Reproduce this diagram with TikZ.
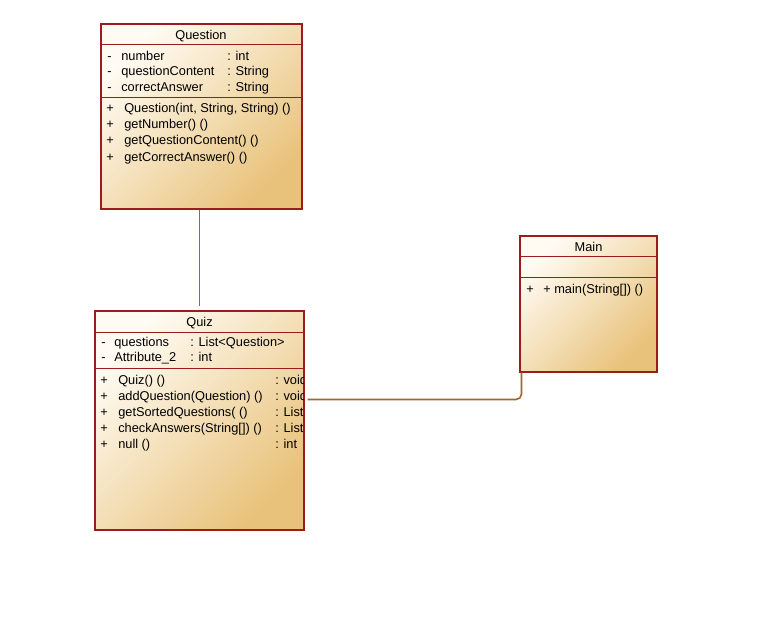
\documentclass[tikz,border=0pt]{standalone}
\usepackage{fontspec}
\setmainfont{Liberation Sans}
\usetikzlibrary{fit,calc}

\definecolor{umlred}{HTML}{9B1C1C}
\definecolor{umllight}{HTML}{FFFBF3}
\definecolor{umldark}{HTML}{E8C27A}
\definecolor{linkbrown}{HTML}{A0662B}

\begin{document}
\begin{tikzpicture}[
  x=0.75pt, y=-0.75pt,
  font=\fontsize{9.6}{11.5}\selectfont,
  classbox/.style={draw=umlred, line width=0.8pt, inner sep=0pt,
                   shading=axis, top color=umllight, bottom color=umldark,
                   shading angle=45},
  sep/.style={draw=umlred, line width=0.8pt},
  title/.style={inner sep=0pt, text height=7pt, text depth=2pt, yshift=-1.8pt},
  member/.style={anchor=west, inner sep=0pt, text height=7pt, text depth=2pt,
                 yshift=-1.2pt},
  assoc/.style={draw=linkbrown, line width=1.2pt}
]
\useasboundingbox (0,0) rectangle (765,635);

% ================= Question =================
\node[classbox, fit={(101,24) (302,209)}] (question) {};
\draw[sep] ($(question.north west)+(0,21)$) -- ($(question.north east)+(0,21)$);
\draw[sep] ($(question.north west)+(0,74)$) -- ($(question.north east)+(0,74)$);
\node[title] (qtitle) at (201,34) {Question};
\node[member] (qa1v) at (107,56) {-};
\node[member] (qa1)  at (121,56) {number};
\node[member] (qa1t) at (227,56) {: int};
\node[member] (qa2v) at (107,71) {-};
\node[member] (qa2)  at (121,71) {questionContent};
\node[member] (qa2t) at (227,71) {: String};
\node[member] (qa3v) at (107,87) {-};
\node[member] (qa3)  at (121,87) {correctAnswer};
\node[member] (qa3t) at (227,87) {: String};
\node[member] (qm1v) at (106,108) {+};
\node[member] (qm1)  at (124,108) {Question(int, String, String) ()};
\node[member] (qm2v) at (106,124) {+};
\node[member] (qm2)  at (124,124) {getNumber() ()};
\node[member] (qm3v) at (106,140) {+};
\node[member] (qm3)  at (124,140) {getQuestionContent() ()};
\node[member] (qm4v) at (106,157) {+};
\node[member] (qm4)  at (124,157) {getCorrectAnswer() ()};

% ================= Quiz =================
\node[classbox, fit={(95,311) (304,530)}] (quiz) {};
\draw[sep] ($(quiz.north west)+(0,22)$) -- ($(quiz.north east)+(0,22)$);
\draw[sep] ($(quiz.north west)+(0,58)$) -- ($(quiz.north east)+(0,58)$);
\node[title] (ztitle) at (199.5,321) {Quiz};
\node[member] (za1v) at (101,342) {-};
\node[member] (za1)  at (114,342) {questions};
\node[member] (za1t) at (190,342) {: List<Question>};
\node[member] (za2v) at (101,357) {-};
\node[member] (za2)  at (114,357) {Attribute\_2};
\node[member] (za2t) at (190,357) {: int};
\node[member] (zm1v) at (100,380) {+};
\node[member] (zm1)  at (118,380) {Quiz() ()};
\node[member] (zm2v) at (100,396) {+};
\node[member] (zm2)  at (118,396) {addQuestion(Question) ()};
\node[member] (zm3v) at (100,412) {+};
\node[member] (zm3)  at (118,412) {getSortedQuestions( ()};
\node[member] (zm4v) at (100,428) {+};
\node[member] (zm4)  at (118,428) {checkAnswers(String[]) ()};
\node[member] (zm5v) at (100,444) {+};
\node[member] (zm5)  at (118,444) {null ()};
\begin{scope}
  \clip (quiz.north west) rectangle ($(quiz.south east)+(-1.5,0)$);
  \node[member] (zm1t) at (275,380) {: void};
  \node[member] (zm2t) at (275,396) {: void};
  \node[member] (zm3t) at (275,412) {: List};
  \node[member] (zm4t) at (275,428) {: List};
  \node[member] (zm5t) at (275,444) {: int};
\end{scope}

% ================= Main =================
\node[classbox, fit={(520,236) (657,372)}] (main) {};
\draw[sep] ($(main.north west)+(0,21)$) -- ($(main.north east)+(0,21)$);
\draw[sep] ($(main.north west)+(0,42)$) -- ($(main.north east)+(0,42)$);
\node[title] (mtitle) at (588.5,246) {Main};
\node[member] (mm1v) at (526,289) {+};
\node[member] (mm1)  at (543,289) {+ main(String[]) ()};

% ================= Connectors =================
\draw[assoc] (question.south -| quiz.north) -- ($(quiz.north)+(0,-4)$);
\coordinate (zlink) at ($(quiz.north east)+(3,89)$);
\draw[assoc, rounded corners=4pt] (zlink) -| ($(main.south west)+(2,0)$);

\end{tikzpicture}
\end{document}
